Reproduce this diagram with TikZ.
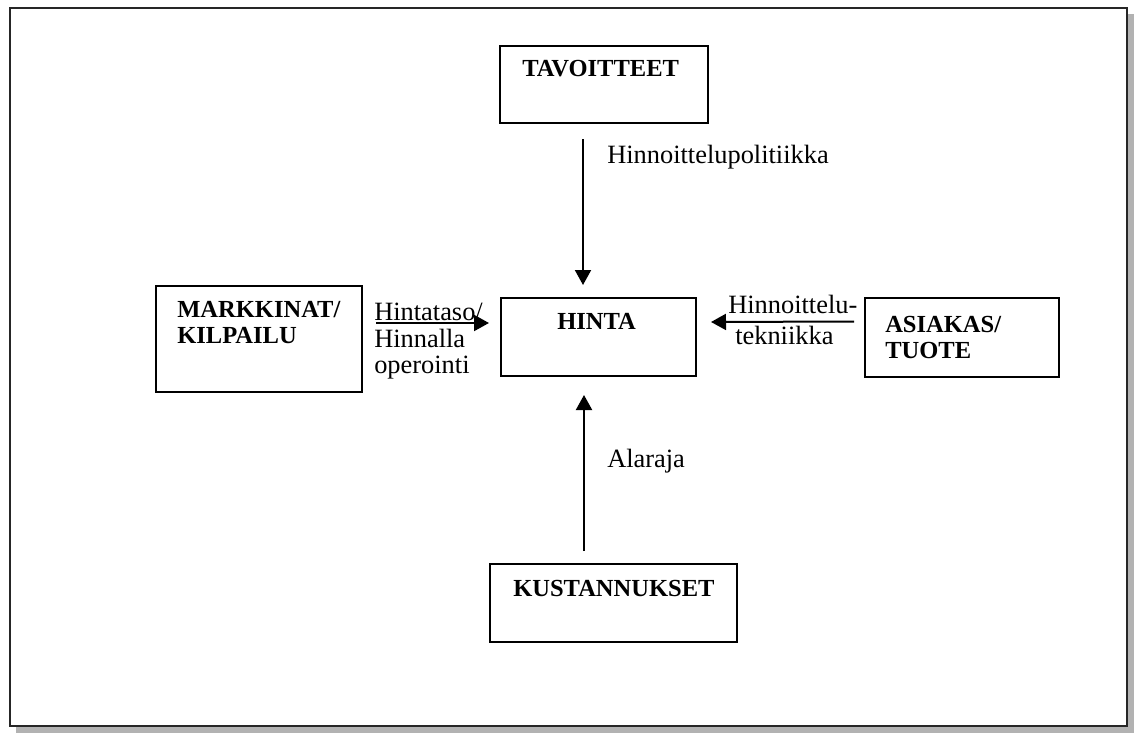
\documentclass[tikz,border=0pt]{standalone}
\usepackage{fontspec}
\setmainfont{Liberation Serif}
\usetikzlibrary{arrows.meta,calc}
\begin{document}
\begin{tikzpicture}[x=0.75pt,y=-0.75pt,
  box/.style={draw=black,line width=1.5pt,minimum width=#1,inner sep=0pt},
  boxtext/.style={anchor=base west,inner sep=0pt,font=\fontsize{18.4pt}{20pt}\selectfont\bfseries},
  lbl/.style={anchor=base west,inner sep=0pt,font=\fontsize{19.8pt}{20pt}\selectfont},
  arr/.style={line width=1.5pt,-{Triangle[length=11.25pt,width=12pt]}}]
\useasboundingbox (0,0) rectangle (1139,735);
% page frame with drop shadow
\fill[black!30] (16,14) rectangle (1134,733);
\draw[fill=white,draw=black!85,line width=2.2pt] (10,8) rectangle (1127,726);

% boxes
\node[box=208*0.75pt,minimum height=77*0.75pt] (tav) at (604,84.5) {};
\node[box=195*0.75pt,minimum height=78*0.75pt] (hinta) at (598.5,337) {};
\node[box=206*0.75pt,minimum height=106*0.75pt] (mark) at (259,339) {};
\node[box=194*0.75pt,minimum height=79*0.75pt] (asi) at (962,337.5) {};
\node[box=247*0.75pt,minimum height=78*0.75pt] (kus) at (613.5,603) {};

% box titles
\node[boxtext] (tavT) at (522,77) {TAVOITTEET};
\node[boxtext] (hintaT) at (557,329) {HINTA};
\node[boxtext] (markT1) at (177,317) {MARKKINAT/};
\node[boxtext] (markT2) at (177,343) {KILPAILU};
\node[boxtext] (asiT1) at (885,332) {ASIAKAS/};
\node[boxtext] (asiT2) at (885,358) {TUOTE};
\node[boxtext] (kusT) at (513,596) {KUSTANNUKSET};

% connectors
\draw[arr] ($(tav.south)+(-21,15)$) -- ($(hinta.north)+(-15.5,-12)$);
\draw[arr] ($(kus.north)+(-29.5,-12)$) -- ($(hinta.south)+(-14.5,18)$);
\draw[arr] ($(mark.east)+(13,-16)$) -- ($(hinta.west)+(-11,-14)$);
\draw[arr] ($(asi.west)+(-10,-16)$) -- ($(hinta.east)+(14,-15)$);

% connector labels
\node[lbl] (l1) at (607,163) {Hinnoittelupolitiikka};
\node[lbl] (l2) at (607,467) {Alaraja};
\node[lbl] (l3a) at (374,320) {Hintataso/};
\node[lbl] (l3b) at (374,347) {Hinnalla};
\node[lbl] (l3c) at (374,373) {operointi};
\node[lbl] (l4a) at (728,313) {Hinnoittelu-};
\node[lbl] (l4b) at (735,344) {tekniikka};
\end{tikzpicture}
\end{document}
